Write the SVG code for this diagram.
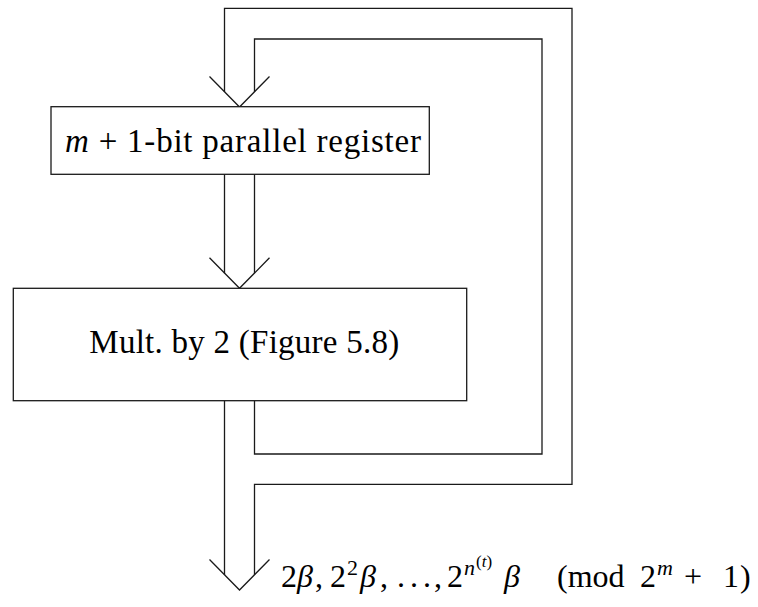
<svg xmlns="http://www.w3.org/2000/svg" width="758" height="607" viewBox="0 0 758 607">
<style>
.ln{fill:none;stroke:#1a1a1a;stroke-width:1.3;stroke-linejoin:miter;stroke-linecap:butt}
.box{fill:#ffffff;stroke:#1a1a1a;stroke-width:1.3}
.lbl{font-family:"Liberation Serif","DejaVu Serif",serif;font-size:33px;fill:#000}
.math{font-family:"Liberation Serif","DejaVu Serif",serif;font-size:32px;fill:#000}
.sup{font-size:22px}
.sup2{font-size:17px}
.it{font-style:italic}
</style>
<rect width="758" height="607" fill="#ffffff"/>
<g id="connectors">
  <path class="ln" d="M224.5,92 V8.3 H572 V484.3 H254.5 V575"/>
  <path class="ln" d="M254.5,92 V39 H542 V454 H254.5 V401"/>
  <path class="ln" d="M224.5,401 V575"/>
  <path class="ln" d="M224.5,174.3 V273.3 M254.5,174.3 V273.3"/>
  <polyline class="ln" points="209.5,76.5 239.5,107 269.5,76.5"/>
  <polyline class="ln" points="209.5,257.8 239.5,288.3 269.5,257.8"/>
  <polyline class="ln" points="209.5,559.5 239.5,590 269.5,559.5"/>
</g>
<g id="register">
  <rect class="box" x="51" y="106.7" width="378.3" height="67.6"/>
  <text class="lbl" x="65" y="151.7" textLength="356" lengthAdjust="spacing"><tspan class="it">m</tspan> + 1-bit parallel register</text>
</g>
<g id="mult">
  <rect class="box" x="13.3" y="288.3" width="453.4" height="112.4"/>
  <text class="lbl" x="89.3" y="353.3" textLength="310" lengthAdjust="spacing">Mult. by 2 (Figure 5.8)</text>
</g>
<g id="output-label" class="math">
  <text x="281" y="587">2</text>
  <text x="297" y="587" class="it">β</text>
  <text x="315" y="587">,</text>
  <text x="330" y="587">2</text>
  <text x="347" y="575" class="sup">2</text>
  <text x="360" y="587" class="it">β</text>
  <text x="380" y="587">,</text>
  <text x="397" y="587">.</text>
  <text x="410" y="587">.</text>
  <text x="423" y="587">.</text>
  <text x="434" y="587">,</text>
  <text x="447" y="587">2</text>
  <text x="464" y="575" class="sup it">n</text>
  <text x="476" y="567" class="sup2">(<tspan class="it">t</tspan>)</text>
  <text x="504" y="587" class="it">β</text>
  <text x="557" y="587">(mod</text>
  <text x="640" y="587">2</text>
  <text x="657" y="575" class="sup it">m</text>
  <text x="684" y="587">+</text>
  <text x="723" y="587">1</text>
  <text x="740" y="587">)</text>
</g>
</svg>
